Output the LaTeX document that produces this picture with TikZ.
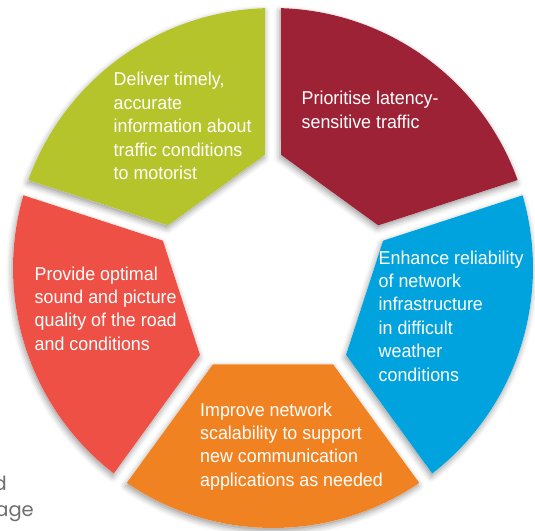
\documentclass[tikz,border=0pt]{standalone}
\usepackage{fontspec}
\setmainfont{Liberation Sans}
\newfontfamily\goalfont{Liberation Sans}[FakeStretch=0.96]
\newfontfamily\pagefont{Poppins}
\usetikzlibrary{calc,shadows.blur}

\definecolor{segLime}{HTML}{B5C42B}
\definecolor{segWine}{HTML}{9D2235}
\definecolor{segSky}{HTML}{00A3DD}
\definecolor{segOrange}{HTML}{F18221}
\definecolor{segCoral}{HTML}{EF5045}
\definecolor{pageGray}{HTML}{6E6E6E}

\newcommand{\ringR}{260pt}
\newcommand{\penR}{119pt}
\newcommand{\gapS}{9.89pt}
\newcommand{\gapA}{1.76}
\newcommand{\ringseg}[2]{($(#1:\penR)!\gapS!(#2:\penR)$) -- ({#1+\gapA}:\ringR) arc[start angle={#1+\gapA}, end angle={#2-\gapA}, radius=\ringR] -- ($(#2:\penR)!\gapS!(#1:\penR)$) -- cycle}

\begin{document}
\begin{tikzpicture}[x=1pt,y=1pt]
        \tikzstyle{segment}=[blur shadow={shadow xshift=-1pt,shadow yshift=-3pt,shadow blur radius=6pt,shadow opacity=40}]
        \tikzstyle{goal}=[text=white,align=left,anchor=base west,inner sep=0pt,font=\goalfont\fontsize{18.6}{23.4}\selectfont]
        \tikzstyle{pagetext}=[text=pageGray,anchor=base east,inner sep=0pt,font=\pagefont\fontsize{19.5}{24}\selectfont]

        \useasboundingbox (-273,-262) rectangle (262,268);

        \foreach \a/\b in {18/90,90/162,162/234,234/306,306/378}
                \fill[segment,white] \ringseg{\a}{\b};
        \foreach \a/\b/\c in {18/90/segWine,90/162/segLime,162/234/segCoral,234/306/segOrange,306/378/segSky}
                \fill[\c] \ringseg{\a}{\b};

        % anchors sit on the last line of each text
        \node [goal] (deliver) at (-159.5,88.4) {Deliver timely,\\accurate\\information about\\traffic conditions\\to motorist};
        \node [goal] (latency) at (28.5,139.6) {Prioritise latency-\\sensitive traffic};
        \node [goal] (reliab) at (105.5,-113) {Enhance reliability\\of network\\infrastructure\\in difficult\\weather\\conditions};
        \node [goal] (quality) at (-238.5,-82.2) {Provide optimal\\sound and picture\\quality of the road\\and conditions};
        \node [goal] (scalab) at (-73,-218.2) {Improve network\\scalability to support\\new communication\\applications as needed};

        \node [pagetext] (d) at (-266,-222) {d};
        \node [pagetext] (age) at (-239,-248) {age};
\end{tikzpicture}
\end{document}
